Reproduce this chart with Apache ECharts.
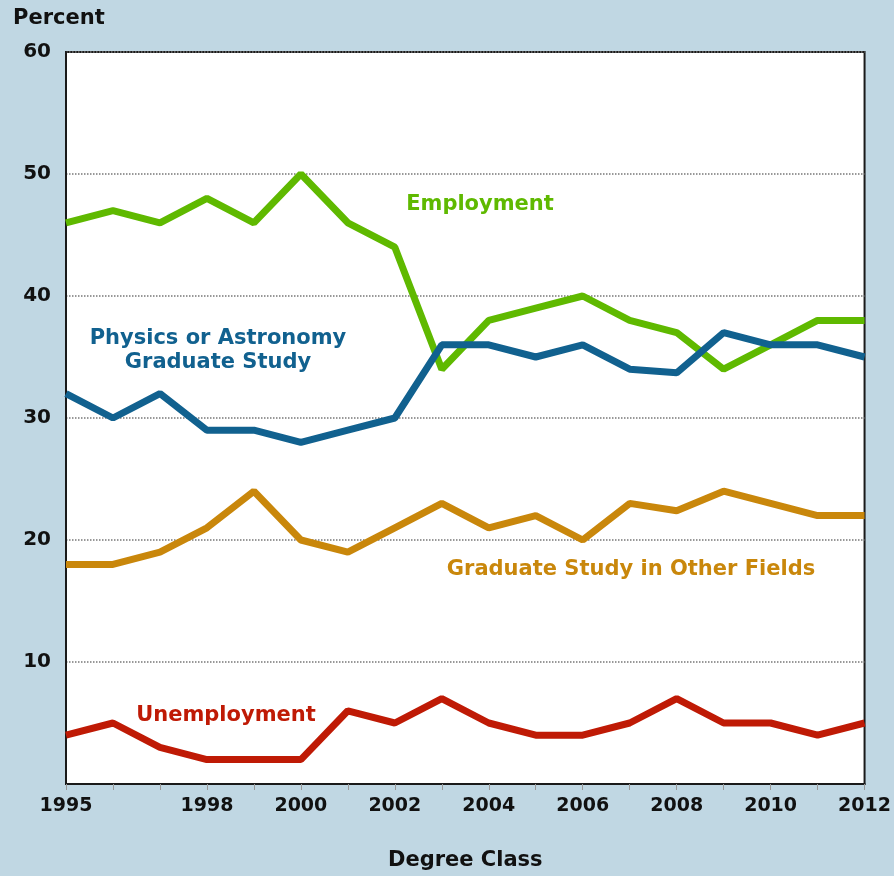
<!DOCTYPE html>
<html>
<head>
<meta charset="utf-8">
<script src="https://cdn.jsdelivr.net/npm/echarts@6/dist/echarts.min.js"></script>
<style>
  html, body { margin: 0; padding: 0; background: #c0d7e3; overflow: hidden; }
  #chart { width: 894px; height: 876px; }
</style>
</head>
<body>
<div id="chart"></div>
<script>
// Degree classes and the labels shown under the axis
const years = ['1995','1996','1997','1998','1999','2000','2001','2002','2003',
  '2004','2005','2006','2007','2008','2009','2010','2011','2012'];
const yearLabels = ['1995','1998','2000','2002','2004','2006','2008','2010','2012'];

// Percent of physics bachelors
const employment   = [46, 47, 46, 48, 46, 50, 46, 44, 34, 38, 39, 40, 38, 37, 34, 36, 38, 38];
const physGrad     = [32, 30, 32, 29, 29, 28, 29, 30, 36, 36, 35, 36, 34, 33.7, 37, 36, 36, 35];
const otherGrad    = [18, 18, 19, 21, 24, 20, 19, 21, 23, 21, 22, 20, 23, 22.4, 24, 23, 22, 22];
const unemployment = [4, 5, 3, 2, 2, 2, 6, 5, 7, 5, 4, 4, 5, 7, 5, 5, 4, 5];

const FONT = 'DejaVu Sans';
const GREEN = '#5fb900', BLUE = '#11618f', ORANGE = '#c9870b', RED = '#bf1a05';

const chart = echarts.init(document.getElementById('chart'), null, { width: 894, height: 876 });

const lineSeries = (name, data, color) => ({
  name, type: 'line', data,
  symbol: 'none',
  lineStyle: { width: 7, color },
  itemStyle: { color },
  animation: false
});

const label = (text, x, y, color) => ({
  type: 'text', x, y,
  style: {
    text, fill: color, font: `bold 21px "${FONT}"`,
    align: 'center', verticalAlign: 'middle'
  }
});

chart.setOption({
  backgroundColor: '#c0d7e3',
  animation: false,
  grid: {
    left: 66, right: 27, top: 52, bottom: 91,
    show: true, backgroundColor: '#ffffff',
    borderColor: '#1a1a1a', borderWidth: 2
  },
  xAxis: {
    type: 'category',
    data: years,
    boundaryGap: false,
    name: 'Degree Class',
    nameLocation: 'middle',
    nameGap: 66,
    nameTextStyle: { fontFamily: FONT, fontWeight: 'bold', fontSize: 21, color: '#111' },
    axisLine: { lineStyle: { color: '#1a1a1a', width: 2 } },
    axisTick: { interval: 0, length: 6, lineStyle: { color: '#999' } },
    axisLabel: {
      interval: (i, v) => yearLabels.includes(v),
      margin: 13,
      fontFamily: FONT, fontWeight: 'bold', fontSize: 19, color: '#111'
    },
    splitLine: { show: false }
  },
  yAxis: {
    type: 'value',
    min: 0, max: 60, interval: 10,
    axisLine: { show: true, lineStyle: { color: '#1a1a1a', width: 2 } },
    axisTick: { show: false },
    axisLabel: {
      formatter: v => (v === 0 ? '' : v),
      margin: 15,
      fontFamily: FONT, fontWeight: 'bold', fontSize: 20, color: '#111'
    },
    splitLine: { lineStyle: { type: 'dotted', color: '#777', width: 1.5 } }
  },
  graphic: [
    {
      type: 'text', x: 13, y: 19,
      style: { text: 'Percent', fill: '#111', font: `bold 21px "${FONT}"`, verticalAlign: 'middle' }
    },
    label('Employment', 480, 205, GREEN),
    label('Physics or Astronomy', 218, 339, BLUE),
    label('Graduate Study', 218, 363, BLUE),
    label('Graduate Study in Other Fields', 631, 570, ORANGE),
    label('Unemployment', 226, 716, RED)
  ],
  series: [
    lineSeries('Employment', employment, GREEN),
    lineSeries('Physics or Astronomy Graduate Study', physGrad, BLUE),
    lineSeries('Graduate Study in Other Fields', otherGrad, ORANGE),
    lineSeries('Unemployment', unemployment, RED)
  ]
});
</script>
</body>
</html>
